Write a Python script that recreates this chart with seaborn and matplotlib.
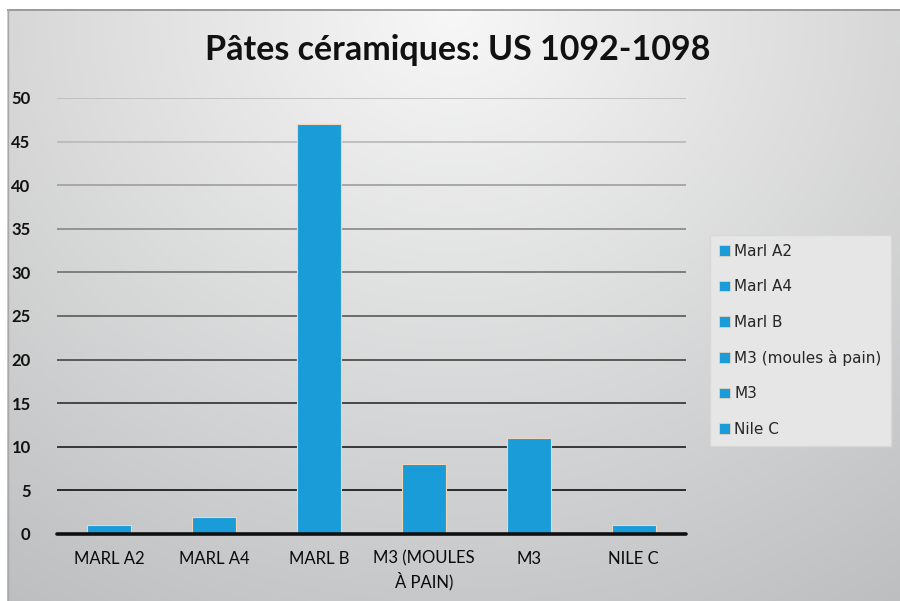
import numpy as np
import pandas as pd
import matplotlib
matplotlib.use("Agg")
import matplotlib.pyplot as plt
import seaborn as sns

categories = ["MARL A2", "MARL A4", "MARL B", "M3 (MOULES\nÀ PAIN)", "M3", "NILE C"]
legend_labels = ["Marl A2", "Marl A4", "Marl B", "M3 (moules à pain)", "M3", "Nile C"]
values = [1, 2, 47, 8, 11, 1]
yticks = [0, 5, 10, 15, 20, 25, 30, 35, 40, 45, 50]
title = "Pâtes céramiques: US 1092-1098"

sns.set_theme(style="white")
plt.rcParams['font.family'] = ['Lato', 'DejaVu Sans']

W, H = 900, 601
fig = plt.figure(figsize=(W / 100, H / 100), dpi=100)
fig.patch.set_facecolor("white")

# gradient background panel
bg = fig.add_axes([7 / W, 0, 1 - 7 / W, 1 - 9 / H], zorder=-10)
gx = np.linspace(0, 1, 300)
gy = np.linspace(0, 1, 200)
X, Y = np.meshgrid(gx, gy)
R = np.sqrt(((X - 0.5) / 0.75) ** 2 + (Y * 1.0) ** 2)
G = np.clip(0.97 - 0.19 * R, 0, 1)
img = np.dstack([G, G + 0.005 * Y, G + 0.01 * Y])
bg.imshow(np.clip(img, 0, 1), aspect="auto", extent=[0, 1, 1, 0], interpolation="bilinear")
bg.set_xlim(0, 1)
bg.set_ylim(1, 0)
bg.axhline(0.002, color="#909090", lw=1.2)
bg.axvline(0.001, color="#a8a8a8", lw=1.0)
bg.axis("off")

ax = fig.add_axes([57 / W, 1 - 534 / H, (686 - 57) / W, (534 - 98) / H])
ax.set_facecolor("none")

df = pd.DataFrame({"cat": legend_labels, "val": values})
blue = "#1a9cd8"
sns.barplot(data=df, x="cat", y="val", hue="cat", palette=[blue] * len(values),
            saturation=1, dodge=False, width=0.42, ax=ax, edgecolor="#f2d6bc",
            linewidth=0.8, zorder=3, legend=True)

ax.set_ylim(0, 50)
ax.set_xlim(-0.5, len(values) - 0.5)
for v in yticks:
    frac = v / 50
    lvl = min(0.75, 0.08 + 0.75 * frac ** 1.3)
    if v == 0:
        ax.axhline(v, color="#101010", lw=2.6, zorder=4, clip_on=False)
    else:
        ax.axhline(v, color=str(lvl), lw=1.3, zorder=1)

ax.set_yticks(yticks)
ax.set_yticklabels([str(v) for v in yticks], fontsize=12, fontweight="bold", color="#111111")
ax.set_xticks(range(len(categories)))
ax.set_xticklabels(categories, fontsize=12, color="#0a0a0a", linespacing=1.35)
ax.tick_params(axis="y", pad=19, length=0)
ax.tick_params(axis="x", pad=12, length=0)
ax.set_xlabel("")
ax.set_ylabel("")
for s in ax.spines.values():
    s.set_visible(False)

leg = ax.get_legend()
if leg is not None:
    leg.remove()
handles = [matplotlib.patches.Patch(facecolor=blue, edgecolor="#f2d6bc", lw=0.5) for _ in legend_labels]
fig.legend(handles, legend_labels, loc="upper left",
           bbox_to_anchor=(710 / W, 1 - 235 / H), frameon=True,
           prop={"family": ["DejaVu Sans"], "size": 11},
           labelspacing=1.33, handlelength=0.7, handleheight=0.7,
           handletextpad=0.3, borderpad=0.6, borderaxespad=0,
           facecolor="#e6e6e6", edgecolor="#d8d8d8", framealpha=1, fancybox=False)

fig.text(458 / W, 1 - 50 / H, title, ha="center", va="center",
         fontsize=24.5, fontweight="bold", color="#111111")

fig.savefig("out.png", dpi=100)
